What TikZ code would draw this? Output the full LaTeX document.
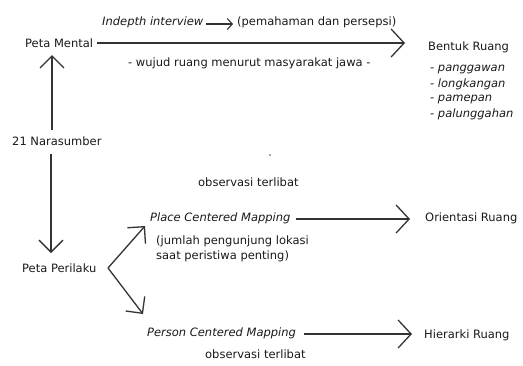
\documentclass[tikz,border=0pt]{standalone}
\usepackage{fontspec}
\setmainfont{DejaVu Sans}
\usetikzlibrary{arrows.meta}
\begin{document}
\begin{tikzpicture}[x=1pt,y=-1pt,
  lbl/.style={inner sep=0pt, anchor=west, font=\fontsize{11.5}{13}\selectfont, text=black!90},
  it/.style={lbl, font=\fontsize{11.5}{13}\selectfont\itshape},
  link/.style={line width=1.3pt, draw=black!80},
  flow/.style={link, -{Straight Barb[length=13pt,width=28pt,line width=1.3pt]}},
  up/.style={link, -{Straight Barb[length=12pt,width=24pt,line width=1.3pt]}},
  small/.style={line width=1.1pt, draw=black!80,
    -{Straight Barb[length=5pt,width=11pt,line width=1.1pt]}}]
\useasboundingbox (0,0) rectangle (523,365);

% left column
\node[lbl] (mental) at (25,43) {Peta Mental};
\node[lbl] (nara) at (12,141) {21 Narasumber};
\node[lbl] (perilaku) at (22,268) {Peta Perilaku};
\coordinate (fork) at (108,268);
\coordinate (upTip) at (145,226);
\coordinate (dnTip) at (143,314);

% mental map branch
\node[it] (indepth) at (102,22) {Indepth interview};
\node[lbl] (paham) at (237,22) {(pemahaman dan persepsi)};
\node[lbl] (wujud) at (128,63) {- wujud ruang menurut masyarakat jawa -};
\node[lbl] (bentuk) at (428,47) {Bentuk Ruang};
\node[it] (b1) at (430,69) {- panggawan};
\node[it] (b2) at (430,84) {- longkangan};
\node[it] (b3) at (430,99) {- pamepan};
\node[it] (b4) at (430,114) {- palunggahan};

% behaviour map branch
\fill[black!70] (270,155) circle (0.8);
\node[lbl] (obs1) at (198,182) {observasi terlibat};
\node[it] (place) at (150,218) {Place Centered Mapping};
\node[lbl] (jumlah) at (156,241) {(jumlah pengunjung lokasi};
\node[lbl] (saat) at (156,256) {saat peristiwa penting)};
\node[lbl] (orient) at (425,218) {Orientasi Ruang};
\node[it] (person) at (147,333) {Person Centered Mapping};
\node[lbl] (obs2) at (205,354) {observasi terlibat};
\node[lbl] (hier) at (424,335) {Hierarki Ruang};

% connectors
\draw[up] (nara.north -| 52,0) ++(0,-6) -- (52,55);
\draw[up] (nara.south -| 51,0) ++(0,8) -- (51,253);
\draw[flow, shorten <=4pt, shorten >=23pt] (mental.east |- 0,43) -- (bentuk.west |- 0,43);
\draw[small, shorten <=3pt, shorten >=4pt] (indepth.east |- 0,24) -- (paham.west |- 0,24);
\draw[up] (fork) -- (upTip);
\draw[up] (fork) -- (dnTip);
\draw[flow, shorten <=5pt, shorten >=15pt] (place.east |- 0,219) -- (orient.west |- 0,219);
\draw[flow, shorten <=8pt, shorten >=12pt] (person.east |- 0,334) -- (hier.west |- 0,334);
\end{tikzpicture}
\end{document}
